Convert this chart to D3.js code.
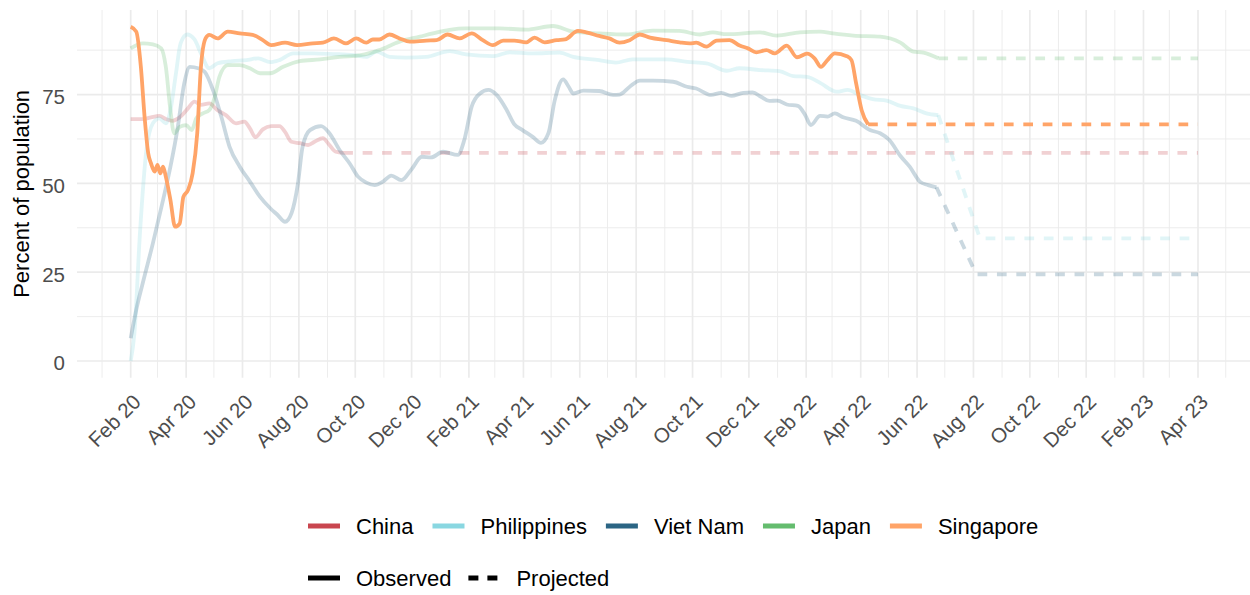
<!DOCTYPE html>
<html lang="en">
<head>
<meta charset="UTF-8">
<title>Percent of population</title>
<style>
  body { margin: 0; padding: 0; background: #fff; }
  svg { display: block; }
  text { font-family: "Liberation Sans", Arial, sans-serif; }
</style>
</head>
<body>
<svg width="1250" height="595"></svg>
<script src="https://d3js.org/d3.v7.min.js"></script>
<script>
// ---- data ----
const countries = ["China", "Philippines", "Viet Nam", "Japan", "Singapore"];
const colours = ["#C9464F", "#89D7E1", "#2B6584", "#64BC6E", "#FFA468"];
const yTicks = [0, 25, 50, 75];
const yMinor = [12.5, 37.5, 62.5, 87.5];
const lineTypes = ["Observed", "Projected"];

const chinaObserved = [
  ["2020-02-01", 68.1], ["2020-02-14", 68.1], ["2020-02-23", 68.6], ["2020-03-03", 69.0],
  ["2020-03-10", 68.1], ["2020-03-17", 67.6], ["2020-03-26", 68.8], ["2020-04-03", 71.1],
  ["2020-04-10", 73.0], ["2020-04-17", 72.1], ["2020-04-26", 72.5], ["2020-05-05", 70.6],
  ["2020-05-14", 69.2], ["2020-05-25", 66.9], ["2020-06-03", 67.4], ["2020-06-09", 65.5],
  ["2020-06-15", 63.0], ["2020-06-23", 65.2], ["2020-07-02", 66.1], ["2020-07-11", 66.1],
  ["2020-07-17", 64.5], ["2020-07-24", 61.7], ["2020-08-02", 61.3], ["2020-08-11", 60.8],
  ["2020-08-18", 61.7], ["2020-08-27", 62.7], ["2020-09-03", 60.8], ["2020-09-10", 58.9],
  ["2020-09-18", 58.6]
];
const chinaProjected = [["2020-09-18", 58.6], ["2023-04-01", 58.6]];

const philippinesObserved = [
  ["2020-02-01", 0.0], ["2020-02-05", 7.8], ["2020-02-11", 35.9], ["2020-02-18", 59.4],
  ["2020-02-25", 66.9], ["2020-03-03", 68.3], ["2020-03-10", 66.9], ["2020-03-15", 70.6],
  ["2020-03-21", 81.0], ["2020-03-26", 89.4], ["2020-04-02", 91.9], ["2020-04-10", 90.5],
  ["2020-04-17", 86.6], ["2020-04-26", 82.4], ["2020-05-05", 83.8], ["2020-05-21", 84.4],
  ["2020-06-05", 84.7], ["2020-06-18", 85.2], ["2020-07-01", 84.1], ["2020-07-11", 84.7],
  ["2020-07-26", 86.6], ["2020-08-16", 86.6], ["2020-09-07", 86.4], ["2020-09-29", 86.1],
  ["2020-10-13", 85.6], ["2020-10-24", 87.1], ["2020-11-07", 85.6], ["2020-11-25", 85.4],
  ["2020-12-17", 85.6], ["2021-01-11", 87.2], ["2021-01-29", 86.3], ["2021-02-27", 85.8],
  ["2021-03-17", 86.9], ["2021-04-11", 86.6], ["2021-05-10", 86.8], ["2021-05-25", 85.6],
  ["2021-06-22", 84.7], ["2021-07-10", 84.0], ["2021-07-28", 84.9], ["2021-09-03", 84.9],
  ["2021-09-25", 84.2], ["2021-10-16", 83.8], ["2021-11-07", 81.7], ["2021-11-21", 82.4],
  ["2021-12-13", 81.9], ["2022-01-03", 81.6], ["2022-01-18", 80.2], ["2022-02-02", 80.0],
  ["2022-02-16", 78.3], ["2022-03-06", 75.8], ["2022-03-18", 76.3], ["2022-03-31", 74.9],
  ["2022-04-14", 73.7], ["2022-04-29", 73.3], ["2022-05-14", 71.8], ["2022-05-28", 71.1],
  ["2022-06-11", 69.7], ["2022-06-24", 69.2]
];
const philippinesProjected = [["2022-06-24", 69.2], ["2022-08-08", 34.5], ["2023-04-01", 34.5]];

const vietNamObserved = [
  ["2020-02-01", 6.4], ["2020-02-07", 14.4], ["2020-02-14", 21.9], ["2020-02-25", 33.1],
  ["2020-03-07", 45.3], ["2020-03-15", 54.7], ["2020-03-23", 65.9], ["2020-03-30", 78.2],
  ["2020-04-05", 82.8], ["2020-04-14", 82.4], ["2020-04-21", 81.4], ["2020-04-30", 76.3],
  ["2020-05-09", 68.8], ["2020-05-18", 60.3], ["2020-05-29", 54.7], ["2020-06-09", 50.5],
  ["2020-06-20", 46.2], ["2020-07-01", 43.0], ["2020-07-09", 41.1], ["2020-07-17", 39.2],
  ["2020-07-24", 41.6], ["2020-07-31", 50.0], ["2020-08-05", 60.3], ["2020-08-13", 65.0],
  ["2020-08-25", 66.1], ["2020-09-03", 64.1], ["2020-09-14", 59.4], ["2020-09-25", 55.6],
  ["2020-10-04", 51.9], ["2020-10-13", 50.2], ["2020-10-22", 49.5], ["2020-10-31", 50.5],
  ["2020-11-09", 52.2], ["2020-11-20", 50.9], ["2020-12-01", 54.0], ["2020-12-12", 57.5],
  ["2020-12-22", 57.3], ["2021-01-04", 58.9], ["2021-01-20", 58.0], ["2021-01-27", 62.2],
  ["2021-02-04", 71.6], ["2021-02-13", 75.3], ["2021-02-22", 76.3], ["2021-03-03", 74.9],
  ["2021-03-14", 70.6], ["2021-03-22", 66.7], ["2021-03-31", 65.0], ["2021-04-11", 63.1],
  ["2021-04-20", 61.4], ["2021-04-28", 64.1], ["2021-05-05", 73.5], ["2021-05-14", 79.3],
  ["2021-05-20", 77.2], ["2021-05-25", 75.3], ["2021-06-05", 76.1], ["2021-06-22", 76.0],
  ["2021-07-07", 74.9], ["2021-07-14", 75.0], ["2021-07-25", 77.2], ["2021-08-05", 78.9],
  ["2021-08-19", 78.9], ["2021-09-10", 78.6], ["2021-09-25", 77.2], ["2021-10-05", 76.7],
  ["2021-10-21", 74.9], ["2021-11-01", 75.5], ["2021-11-12", 74.6], ["2021-11-25", 75.5],
  ["2021-12-05", 75.6], ["2021-12-14", 74.4], ["2021-12-23", 73.2], ["2022-01-01", 73.3],
  ["2022-01-11", 72.2], ["2022-01-23", 71.8], ["2022-01-31", 69.2], ["2022-02-06", 66.4],
  ["2022-02-16", 69.0], ["2022-02-24", 68.8], ["2022-03-04", 69.7], ["2022-03-13", 68.6],
  ["2022-03-27", 67.6], ["2022-04-11", 65.0], ["2022-04-22", 64.1], ["2022-05-02", 62.2],
  ["2022-05-14", 57.7], ["2022-05-24", 54.7], ["2022-06-04", 50.5], ["2022-06-13", 49.5],
  ["2022-06-22", 48.9]
];
const vietNamProjected = [["2022-06-22", 48.9], ["2022-08-04", 24.4], ["2023-04-01", 24.4]];

const japanObserved = [
  ["2020-02-01", 88.0], ["2020-02-14", 89.4], ["2020-02-25", 89.1], ["2020-03-05", 88.0],
  ["2020-03-10", 82.8], ["2020-03-15", 70.6], ["2020-03-19", 64.1], ["2020-03-25", 65.9],
  ["2020-04-01", 66.4], ["2020-04-07", 65.0], ["2020-04-12", 68.3], ["2020-04-19", 69.7],
  ["2020-04-26", 70.6], ["2020-05-02", 74.4], ["2020-05-07", 80.0], ["2020-05-16", 83.3],
  ["2020-05-29", 83.3], ["2020-06-09", 82.4], ["2020-06-20", 81.0], ["2020-07-01", 81.0],
  ["2020-07-15", 82.8], ["2020-08-02", 84.4], ["2020-08-24", 84.9], ["2020-09-14", 85.6],
  ["2020-10-07", 86.1], ["2020-10-27", 87.5], ["2020-11-18", 89.9], ["2020-12-10", 91.3],
  ["2020-12-24", 92.2], ["2021-01-11", 93.2], ["2021-01-29", 93.6], ["2021-03-06", 93.6],
  ["2021-04-04", 93.3], ["2021-05-03", 94.3], ["2021-05-25", 92.7], ["2021-06-22", 92.2],
  ["2021-07-21", 91.9], ["2021-08-19", 93.0], ["2021-09-17", 92.9], ["2021-10-09", 91.9],
  ["2021-10-23", 92.5], ["2021-11-07", 92.0], ["2021-12-13", 92.5], ["2021-12-31", 91.6],
  ["2022-01-25", 92.5], ["2022-02-16", 92.7], ["2022-03-02", 92.2], ["2022-03-24", 91.6],
  ["2022-04-22", 91.3], ["2022-05-14", 89.6], ["2022-05-28", 87.1], ["2022-06-08", 86.8],
  ["2022-06-24", 85.2]
];
const japanProjected = [["2022-06-24", 85.2], ["2023-04-01", 85.2]];

const singaporeObserved = [
  ["2020-02-01", 94.1], ["2020-02-07", 92.7], ["2020-02-12", 82.8], ["2020-02-16", 68.8],
  ["2020-02-20", 58.4], ["2020-02-23", 55.6], ["2020-02-27", 53.3], ["2020-03-01", 55.2],
  ["2020-03-04", 52.8], ["2020-03-07", 54.7], ["2020-03-10", 51.9], ["2020-03-15", 45.3],
  ["2020-03-20", 37.8], ["2020-03-25", 38.7], ["2020-03-29", 46.2], ["2020-04-03", 48.1],
  ["2020-04-08", 52.8], ["2020-04-13", 64.1], ["2020-04-17", 82.8], ["2020-04-22", 90.8],
  ["2020-04-26", 91.8], ["2020-05-05", 90.8], ["2020-05-16", 92.7], ["2020-05-29", 92.2],
  ["2020-06-12", 91.8], ["2020-06-23", 90.3], ["2020-07-02", 88.9], ["2020-07-17", 89.6],
  ["2020-07-30", 88.9], ["2020-08-16", 89.4], ["2020-08-27", 89.6], ["2020-09-08", 90.8],
  ["2020-09-21", 89.4], ["2020-10-02", 90.8], ["2020-10-13", 89.6], ["2020-10-20", 90.5],
  ["2020-10-27", 90.5], ["2020-11-07", 91.9], ["2020-11-18", 90.8], ["2020-11-29", 89.9],
  ["2020-12-17", 90.2], ["2020-12-28", 90.3], ["2021-01-09", 91.9], ["2021-01-22", 90.8],
  ["2021-02-04", 92.2], ["2021-02-16", 90.3], ["2021-02-27", 88.9], ["2021-03-10", 90.2],
  ["2021-03-22", 90.2], ["2021-04-04", 89.7], ["2021-04-13", 91.0], ["2021-04-24", 89.7],
  ["2021-05-07", 90.3], ["2021-05-16", 90.5], ["2021-05-30", 92.9], ["2021-06-08", 92.5],
  ["2021-06-22", 91.5], ["2021-07-03", 90.8], ["2021-07-14", 89.6], ["2021-07-25", 90.3],
  ["2021-08-05", 91.9], ["2021-08-16", 91.0], ["2021-09-03", 90.3], ["2021-09-17", 89.7],
  ["2021-09-28", 89.4], ["2021-10-05", 89.6], ["2021-10-16", 88.5], ["2021-10-27", 90.2],
  ["2021-11-10", 90.3], ["2021-11-21", 88.8], ["2021-11-30", 88.0], ["2021-12-09", 86.9],
  ["2021-12-20", 87.5], ["2021-12-29", 86.6], ["2022-01-11", 88.8], ["2022-01-22", 85.5],
  ["2022-02-02", 86.5], ["2022-02-10", 85.2], ["2022-02-17", 82.8], ["2022-02-24", 84.7],
  ["2022-03-04", 86.6], ["2022-03-17", 85.8], ["2022-03-22", 84.7], ["2022-03-27", 78.2],
  ["2022-04-02", 70.6], ["2022-04-09", 66.6]
];
const singaporeProjected = [["2022-04-09", 66.6], ["2023-04-01", 66.6]];

const observed = [chinaObserved, philippinesObserved, vietNamObserved, japanObserved, singaporeObserved];
const projected = [chinaProjected, philippinesProjected, vietNamProjected, japanProjected, singaporeProjected];

// ---- layout ----
const svg = d3.select("svg");
const panel = { left: 77, right: 1250, top: 10, bottom: 377.7 };
const parse = d3.timeParse("%Y-%m-%d");
const dash = "9.7,9.7";

const x = d3.scaleTime()
  .domain([parse("2020-02-01"), parse("2023-04-01")])
  .range([130.7, 1198]);
const y = d3.scaleLinear()
  .domain([-4.7, 98.8])
  .range([panel.bottom, panel.top]);

// grid
const grid = svg.append("g").attr("stroke", "#EBEBEB");
const months = d3.timeMonth.range(parse("2020-01-01"), parse("2023-06-01"));
const majorMonths = months.filter(d => d.getMonth() % 2 === 1);
const minorMonths = months.filter(d => d.getMonth() % 2 === 0);

grid.selectAll(".hminor").data(yMinor).join("line")
  .attr("x1", panel.left).attr("x2", panel.right)
  .attr("y1", d => y(d)).attr("y2", d => y(d))
  .attr("stroke-width", 0.9);
grid.selectAll(".vminor").data(minorMonths).join("line")
  .attr("x1", d => x(d)).attr("x2", d => x(d))
  .attr("y1", panel.top).attr("y2", panel.bottom)
  .attr("stroke-width", 0.9);
grid.selectAll(".hmajor").data(yTicks).join("line")
  .attr("x1", panel.left).attr("x2", panel.right)
  .attr("y1", d => y(d)).attr("y2", d => y(d))
  .attr("stroke-width", 1.7);
grid.selectAll(".vmajor").data(majorMonths).join("line")
  .attr("x1", d => x(d)).attr("x2", d => x(d))
  .attr("y1", panel.top).attr("y2", panel.bottom)
  .attr("stroke-width", 1.7);

// axes labels
const yAxis = d3.axisLeft(y).tickValues(yTicks).tickSize(0).tickPadding(12);
svg.append("g")
  .attr("transform", `translate(${panel.left},0)`)
  .call(yAxis)
  .call(g => g.select(".domain").remove())
  .call(g => g.selectAll("text")
    .attr("fill", "#4D4D4D")
    .attr("dy", "0.43em")
    .style("font-size", "20.5px")
    .style("font-family", "'Liberation Sans', Arial, sans-serif"));

const fmt = d3.timeFormat("%b %y");
svg.append("g").selectAll("text").data(majorMonths).join("text")
  .attr("transform", d => `translate(${x(d) + 1},${panel.bottom + 15}) rotate(-45)`)
  .attr("text-anchor", "end")
  .attr("dy", "0.72em")
  .attr("fill", "#4D4D4D")
  .style("font-size", "20.5px")
  .text(fmt);

svg.append("text")
  .attr("transform", `translate(29,${(panel.top + panel.bottom) / 2}) rotate(-90)`)
  .attr("text-anchor", "middle")
  .attr("fill", "#000")
  .style("font-size", "22px")
  .text("Percent of population");

// lines
svg.append("clipPath").attr("id", "clip")
  .append("rect")
  .attr("x", panel.left).attr("y", panel.top)
  .attr("width", panel.right - panel.left).attr("height", panel.bottom - panel.top);

const plot = svg.append("g").attr("clip-path", "url(#clip)");
const smooth = d3.line()
  .x(d => x(parse(d[0])))
  .y(d => y(d[1]))
  .curve(d3.curveMonotoneX);
const straight = d3.line()
  .x(d => x(parse(d[0])))
  .y(d => y(d[1]));

countries.forEach((c, i) => {
  const alpha = c === "Singapore" ? 1 : 0.25;
  plot.append("path")
    .attr("d", straight(projected[i]))
    .attr("fill", "none")
    .attr("stroke", colours[i])
    .attr("stroke-opacity", alpha)
    .attr("stroke-width", 3.8)
    .attr("stroke-dasharray", dash);
  plot.append("path")
    .attr("d", smooth(observed[i]))
    .attr("fill", "none")
    .attr("stroke", colours[i])
    .attr("stroke-opacity", alpha)
    .attr("stroke-width", 3.8)
    .attr("stroke-linejoin", "round");
});

// legend
const legend = svg.append("g").style("font-size", "22px");
let lx = 308;
countries.forEach((c, i) => {
  legend.append("line")
    .attr("x1", lx).attr("x2", lx + 32)
    .attr("y1", 526).attr("y2", 526)
    .attr("stroke", colours[i]).attr("stroke-width", 5);
  const t = legend.append("text")
    .attr("x", lx + 48).attr("y", 526)
    .attr("dy", "0.35em")
    .attr("fill", "#000")
    .text(c);
  lx += 48 + t.node().getComputedTextLength() + 19;
});

lx = 308;
lineTypes.forEach((lt, i) => {
  legend.append("line")
    .attr("x1", lx).attr("x2", lx + 32)
    .attr("y1", 578).attr("y2", 578)
    .attr("stroke", "#000").attr("stroke-width", 5)
    .attr("stroke-dasharray", i === 1 ? "10,9" : null);
  const t = legend.append("text")
    .attr("x", lx + 48).attr("y", 578)
    .attr("dy", "0.35em")
    .attr("fill", "#000")
    .text(lt);
  lx += 48 + t.node().getComputedTextLength() + 17;
});
</script>
</body>
</html>
